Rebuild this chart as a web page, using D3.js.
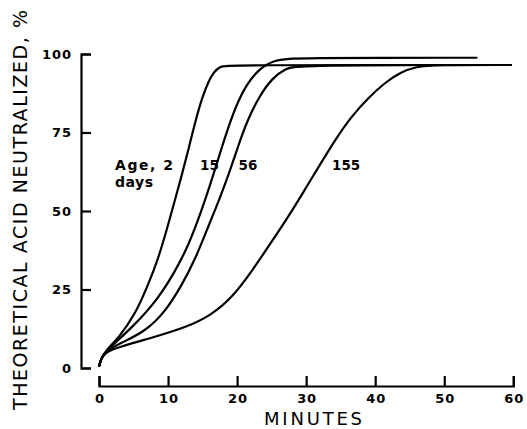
<!DOCTYPE html>
<html>
<head>
<meta charset="utf-8">
<script src="https://cdn.jsdelivr.net/npm/d3@7"></script>
<style>
  html, body { margin: 0; padding: 0; background: #fff; }
  svg { display: block; }
  text { font-family: "DejaVu Sans", "Liberation Sans", Arial, sans-serif; fill: #000; }
</style>
</head>
<body>
<svg id="chart" width="527" height="429"></svg>
<script>
// ---- data (minutes, % theoretical acid neutralized) ----
const age2 = [[0,0.5],[0.3,3],[1,5.6],[2.8,9.5],[5.2,16.9],[7.1,26.4],[8.6,34.9],[10,45.5],[11,53.5],[12,61.5],[13,70],[14,79],[15,86.5],[15.8,91],[16.6,94.2],[17.5,96],[18.5,96.5],[59.8,96.5]];
const age15 = [[0,0.5],[0.3,3],[1,5.4],[5.2,13.7],[8.6,22.2],[11,30.7],[13,39.2],[14.8,49.8],[16.1,58.3],[17.3,66.8],[18.5,75.3],[19.9,83.8],[21.3,90.1],[23.2,95.4],[25.5,98.1],[27.9,98.8],[54.8,98.8]];
const age56 = [[0,0.5],[0.3,3],[1,5.3],[3,7.8],[6.7,11.6],[9.6,17.9],[12,26.4],[14,34.9],[15.9,45.5],[17.5,54],[19.1,63.6],[20.2,71],[21.5,79],[23.3,86.9],[25.1,92.3],[27,95.4],[28.9,96.5],[59.8,96.5]];
const age155 = [[0,0.5],[0.3,3],[1,5.1],[2.8,6.6],[7.6,9.6],[12.5,12.8],[16.3,16.9],[19.2,22.2],[22.1,30.7],[25,40.2],[27.9,49.8],[30,57.5],[32.2,65.5],[34.3,73],[36.5,80],[39,86],[41.2,90.5],[43.6,94.2],[46,96],[48.5,96.5],[59.8,96.5]];
const seriesNames = ["Age, 2", "15", "56", "155"];
const xTicks = [0,10,20,30,40,50,60];
const yTicks = [0,25,50,75,100];
const xTitle = "MINUTES";
const yTitle = "THEORETICAL ACID NEUTRALIZED, %";

const svg = d3.select("#chart");
const x = d3.scaleLinear().domain([0,60]).range([99, 513.3]);
const y = d3.scaleLinear().domain([0,100]).range([368, 54]);

// y axis (ticks pointing inward to the right)
const gy = svg.append("g").attr("transform", "translate(81,0)")
  .call(d3.axisLeft(y).tickValues(yTicks).tickSize(-10).tickSizeOuter(-10).tickPadding(10).tickFormat(d3.format("d")));
// x axis (ticks pointing up)
const gx = svg.append("g").attr("transform", "translate(0,386)")
  .call(d3.axisBottom(x).tickValues(xTicks).tickSize(-10).tickSizeOuter(-10).tickPadding(7.5).tickFormat(d3.format("d")));
[gx, gy].forEach(g => {
  g.attr("font-family", null).attr("font-size", null);
  g.select(".domain").attr("stroke", "#000").attr("stroke-width", 2.2);
  g.selectAll(".tick line").attr("stroke", "#000").attr("stroke-width", 2.2);
  g.selectAll(".tick text")
    .attr("font-size", 13).attr("font-weight", "bold")
    .attr("textLength", d => String(d).length * 10 - 1).attr("lengthAdjust", "spacing");
});

// axis titles
svg.append("text").attr("x", 313).attr("y", 425).attr("text-anchor", "middle")
  .attr("font-size", 18).attr("textLength", 98).attr("lengthAdjust", "spacing").text(xTitle);
svg.append("text").attr("transform", "translate(26.5,210) rotate(-90)").attr("text-anchor", "middle")
  .attr("font-size", 19).attr("textLength", 400).attr("lengthAdjust", "spacing").text(yTitle);

// curves
const line = d3.line().x(d => x(d[0])).y(d => y(d[1])).curve(d3.curveBasis);
[age2, age15, age56, age155].forEach(s => {
  svg.append("path").datum(s).attr("d", line)
    .attr("fill", "none").attr("stroke", "#000").attr("stroke-width", 2.2)
    .attr("stroke-linejoin", "round");
});

// curve labels
svg.append("text").attr("x", 115).attr("y", 169.5)
  .attr("font-size", 14).attr("font-weight", "bold")
  .attr("textLength", 58).attr("lengthAdjust", "spacing").text(seriesNames[0]);
svg.append("text").attr("x", 115).attr("y", 187)
  .attr("font-size", 14).attr("font-weight", "bold")
  .attr("textLength", 38).attr("lengthAdjust", "spacing").text("days");
const num = (t, xx) => svg.append("text").attr("x", xx).attr("y", 169.5)
  .attr("font-family", "'Liberation Sans', Arial, sans-serif")
  .attr("font-size", 13.5).attr("font-weight", "bold").text(t);
num(seriesNames[1], 200);
num(seriesNames[2], 238.5);
num(seriesNames[3], 332);
</script>
</body>
</html>
